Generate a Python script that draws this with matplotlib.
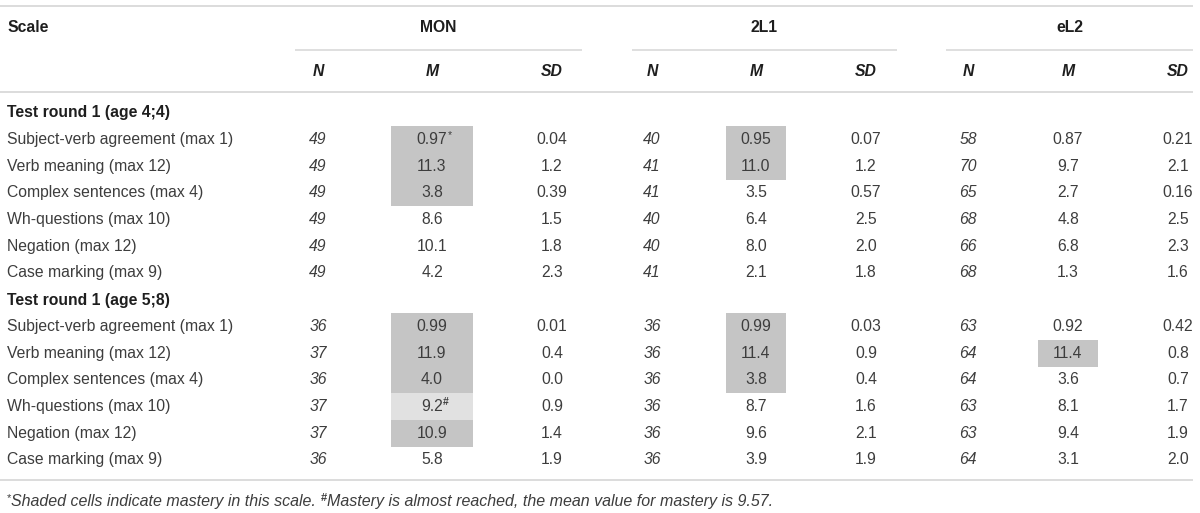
import matplotlib
matplotlib.use("Agg")
import matplotlib.pyplot as plt
from matplotlib.patches import Rectangle

plt.rcParams["font.family"] = ["Liberation Sans", "DejaVu Sans"]

# ---- table content ----
groups = ["MON", "2L1", "eL2"]
stats = ["N", "M", "SD"]
rounds = ["Test round 1 (age 4;4)", "Test round 1 (age 5;8)"]
scales = ["Subject-verb agreement (max 1)", "Verb meaning (max 12)",
          "Complex sentences (max 4)", "Wh-questions (max 10)",
          "Negation (max 12)", "Case marking (max 9)"]

# round 1 (age 4;4)
mon_n_1 = ["49", "49", "49", "49", "49", "49"]
mon_m_1 = ["0.97", "11.3", "3.8", "8.6", "10.1", "4.2"]
mon_sd_1 = ["0.04", "1.2", "0.39", "1.5", "1.8", "2.3"]
l21_n_1 = ["40", "41", "41", "40", "40", "41"]
l21_m_1 = ["0.95", "11.0", "3.5", "6.4", "8.0", "2.1"]
l21_sd_1 = ["0.07", "1.2", "0.57", "2.5", "2.0", "1.8"]
el2_n_1 = ["58", "70", "65", "68", "66", "68"]
el2_m_1 = ["0.87", "9.7", "2.7", "4.8", "6.8", "1.3"]
el2_sd_1 = ["0.21", "2.1", "0.16", "2.5", "2.3", "1.6"]

# round 2 (age 5;8)
mon_n_2 = ["36", "37", "36", "37", "37", "36"]
mon_m_2 = ["0.99", "11.9", "4.0", "9.2", "10.9", "5.8"]
mon_sd_2 = ["0.01", "0.4", "0.0", "0.9", "1.4", "1.9"]
l21_n_2 = ["36", "36", "36", "36", "36", "36"]
l21_m_2 = ["0.99", "11.4", "3.8", "8.7", "9.6", "3.9"]
l21_sd_2 = ["0.03", "0.9", "0.4", "1.6", "2.1", "1.9"]
el2_n_2 = ["63", "64", "64", "63", "63", "64"]
el2_m_2 = ["0.92", "11.4", "3.6", "8.1", "9.4", "3.1"]
el2_sd_2 = ["0.42", "0.8", "0.7", "1.7", "1.9", "2.0"]

# mastery shading on M: 2 = mastered, 1 = almost reached, 0 = none
mon_shade_1 = [2, 2, 2, 0, 0, 0]
l21_shade_1 = [2, 2, 0, 0, 0, 0]
el2_shade_1 = [0, 0, 0, 0, 0, 0]
mon_shade_2 = [2, 2, 2, 1, 2, 0]
l21_shade_2 = [2, 2, 2, 0, 0, 0]
el2_shade_2 = [0, 2, 0, 0, 0, 0]

# superscript marks on M cells: (round, group, row, mark)
marks = [(0, 0, 0, "*"), (1, 0, 3, "#")]

footnote_a = "Shaded cells indicate mastery in this scale. "
footnote_b = "Mastery is almost reached, the mean value for mastery is 9.57."

table = [
    [(mon_n_1, mon_m_1, mon_sd_1, mon_shade_1),
     (l21_n_1, l21_m_1, l21_sd_1, l21_shade_1),
     (el2_n_1, el2_m_1, el2_sd_1, el2_shade_1)],
    [(mon_n_2, mon_m_2, mon_sd_2, mon_shade_2),
     (l21_n_2, l21_m_2, l21_sd_2, l21_shade_2),
     (el2_n_2, el2_m_2, el2_sd_2, el2_shade_2)],
]

# ---- layout (pixels) ----
W, H = 1200, 513
col_x = [[318, 432, 552], [652, 756, 866], [968, 1068, 1178]]
span_x = [(295, 582), (632, 897), (946, 1193)]
box_w = [82, 60, 60]
row_h = 26.65
round_y = [113, 300]
txt = "#3d3d3d"
hdr = "#1e1e1e"
rule = "#d9d9d9"
shade = {2: "#c5c5c5", 1: "#e1e1e1"}
fs = 11.3

fig = plt.figure(figsize=(W / 100, H / 100), dpi=100)
ax = fig.add_axes([0, 0, 1, 1])
ax.set_xlim(0, W)
ax.set_ylim(H, 0)
ax.axis("off")

# rules
for y in (6, 92, 480):
    ax.plot([0, 1193], [y, y], color=rule, lw=1.3, solid_capstyle="butt")
for x0, x1 in span_x:
    ax.plot([x0, x1], [49.5, 49.5], color=rule, lw=1.2, solid_capstyle="butt")

# header
ax.text(7, 27, "Scale", fontsize=fs, fontweight="bold", color=hdr,
        ha="left", va="center")
for g, name in enumerate(groups):
    ax.text(sum(span_x[g]) / 2, 27, name, fontsize=fs, fontweight="bold",
            color=hdr, ha="center", va="center")
    for s, st in enumerate(stats):
        ax.text(col_x[g][s], 72, st, fontsize=fs, fontweight="bold",
                style="italic", color=hdr, ha="center", va="center")

# body
for r, title in enumerate(rounds):
    ax.text(7, round_y[r], title, fontsize=fs, fontweight="bold", color=hdr,
            ha="left", va="center")
    for i, scale in enumerate(scales):
        y = round_y[r] + row_h * (i + 1)
        ax.text(7, y, scale, fontsize=fs, color=txt, ha="left", va="center")
        for g in range(len(groups)):
            n_vals, m_vals, sd_vals, shades = table[r][g]
            if shades[i]:
                ax.add_patch(Rectangle((col_x[g][1] - box_w[g] / 2, y - row_h / 2),
                                       box_w[g], row_h, facecolor=shade[shades[i]],
                                       edgecolor="none", zorder=0))
            ax.text(col_x[g][0], y, n_vals[i], fontsize=fs, style="italic",
                    color=txt, ha="center", va="center")
            t = ax.text(col_x[g][1], y, m_vals[i], fontsize=fs, color=txt,
                        ha="center", va="center")
            for mr, mg, mi, mk in marks:
                if (mr, mg, mi) == (r, g, i):
                    ax.annotate(mk, xy=(1.0, 0.45), xycoords=t, fontsize=7.5,
                                color=txt, ha="left", va="bottom",
                                fontweight="bold" if mk == "#" else "normal")
            ax.text(col_x[g][2], y, sd_vals[i], fontsize=fs, color=txt,
                    ha="center", va="center")

# footnote
fy = 497
f0 = ax.text(7, fy + 6, "*", fontsize=8, color=txt, ha="left", va="bottom")
f1 = ax.annotate(footnote_a, xy=(1.0, 0.0), xycoords=f0, xytext=(0, -4),
                 textcoords="offset points", fontsize=11.5, style="italic",
                 color=txt, ha="left", va="bottom")
f2 = ax.annotate("#", xy=(1.0, 0.0), xycoords=f1, xytext=(0, 4),
                 textcoords="offset points", fontsize=8, fontweight="bold",
                 color=txt, ha="left", va="bottom")
ax.annotate(footnote_b, xy=(1.0, 0.0), xycoords=f2, xytext=(0, -4),
            textcoords="offset points", fontsize=11.5, style="italic",
            color=txt, ha="left", va="bottom")

fig.savefig("out.png", dpi=100)
